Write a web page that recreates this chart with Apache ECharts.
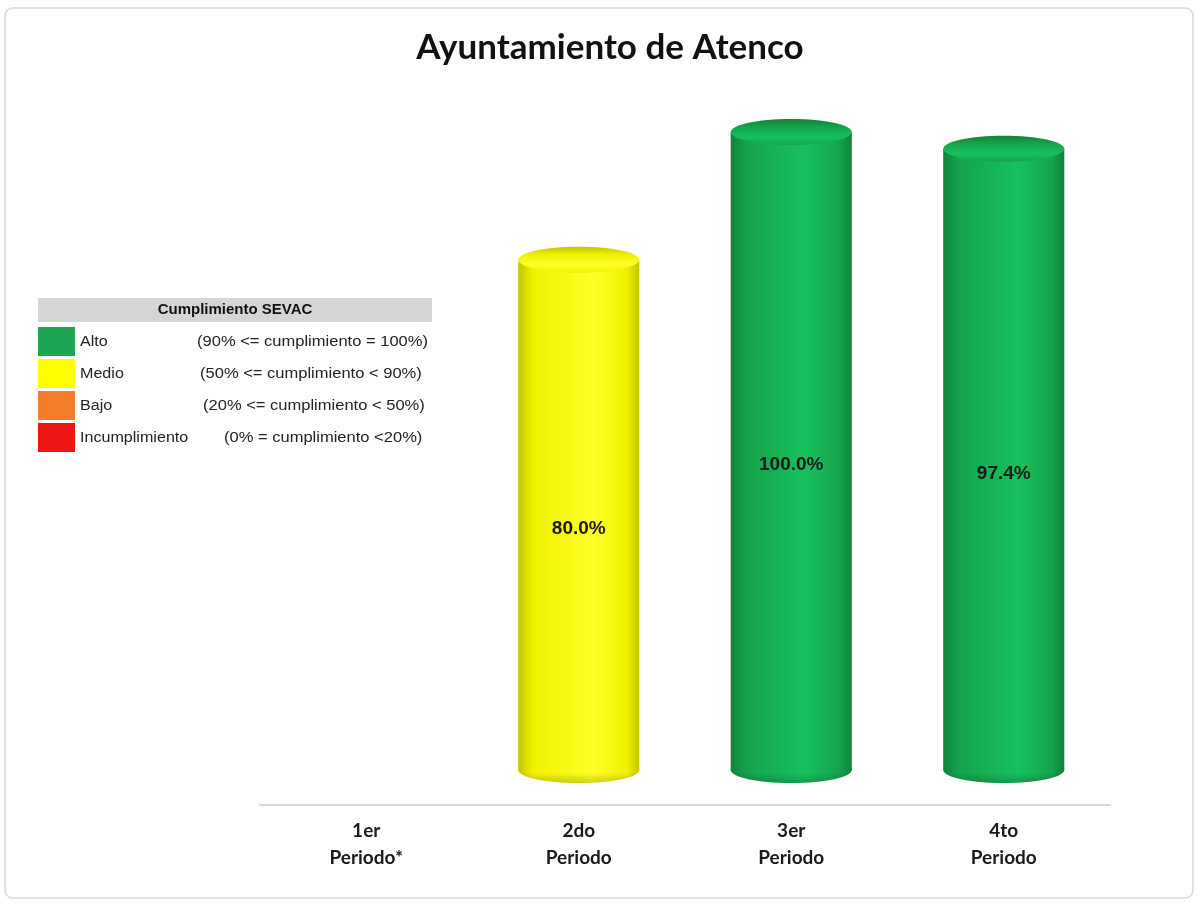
<!DOCTYPE html>
<html>
<head>
<meta charset="utf-8">
<script src="https://cdn.jsdelivr.net/npm/echarts@6/dist/echarts.min.js"></script>
<style>
  html, body { margin: 0; padding: 0; background: #fff; }
  #chart { width: 1198px; height: 903px; }
</style>
</head>
<body>
<div id="chart"></div>
<script>
// datos del grafico
const titulo = "Ayuntamiento de Atenco";
const categorias = ["1er\nPeriodo*", "2do\nPeriodo", "3er\nPeriodo", "4to\nPeriodo"];
const cumplimiento = [null, 80.0, 100.0, 97.4];

// leyenda SEVAC
const nivelNombres = ["Alto", "Medio", "Bajo", "Incumplimiento"];
const nivelRangos = [
  "(90% <= cumplimiento = 100%)",
  "(50% <= cumplimiento < 90%)",
  "(20% <= cumplimiento < 50%)",
  "(0% = cumplimiento <20%)"
];
const nivelMinimos = [90, 50, 20, 0];

// colores de cada nivel (cuadro) y del cilindro (borde oscuro, medio, brillo)
const nivelColores = ["#1ea653", "#ffff00", "#f47d2c", "#ee1515"];
const cilindroColores = [
  ["#108338", "#16a24b", "#16c15d"],
  ["#c4c400", "#f0f000", "#ffff28"],
  ["#b85a10", "#e07020", "#ff9a50"],
  ["#a00d0d", "#d01515", "#ff4a4a"]
];

function nivel(v) {
  for (let i = 0; i < nivelMinimos.length; i++) {
    if (v >= nivelMinimos[i]) return i;
  }
  return nivelMinimos.length - 1;
}

let myChart = echarts.init(document.getElementById("chart"));

// marco, titulo y cuadro de leyenda con graphic
let extras = [
  {
    type: "rect",
    z: -10,
    shape: { x: 5, y: 8, width: 1188, height: 890, r: 8 },
    style: { fill: "#fff", stroke: "#d8d8d8", lineWidth: 1.5 }
  },
  {
    type: "text",
    x: 610, y: 48,
    style: {
      text: titulo, fill: "#111",
      font: "bold 35px Lato", align: "center", verticalAlign: "middle"
    }
  },
  {
    type: "rect",
    shape: { x: 38, y: 298, width: 394, height: 24 },
    style: { fill: "#d5d5d5" }
  },
  {
    type: "text",
    x: 235, y: 310,
    style: {
      text: "Cumplimiento SEVAC", fill: "#111",
      font: "bold 15px 'Liberation Sans', Arial", align: "center", verticalAlign: "middle"
    }
  }
];
const rangoX = [197, 200, 203, 224];
nivelNombres.forEach(function (nombre, i) {
  let y = 327 + i * 32;
  extras.push({
    type: "rect",
    shape: { x: 38, y: y, width: 37, height: 29 },
    style: { fill: nivelColores[i] }
  });
  extras.push({
    type: "text",
    x: 80, y: y + 15,
    scaleX: 1.15,
    style: {
      text: nombre, fill: "#222",
      font: "14px 'Liberation Sans', Arial", verticalAlign: "middle"
    }
  });
  extras.push({
    type: "text",
    x: rangoX[i], y: y + 15,
    scaleX: 1.18,
    style: {
      text: nivelRangos[i], fill: "#222",
      font: "14px 'Liberation Sans', Arial", verticalAlign: "middle"
    }
  });
});

function cilindro(params, api) {
  let v = api.value(1);
  if (v == null || isNaN(v)) return;
  let top = api.coord([api.value(0), v]);
  let base = api.coord([api.value(0), 0]);
  let w = api.size([1, 0])[0] * 0.57;
  let rx = w / 2;
  let ry = 13;
  let cx = top[0];
  let c = cilindroColores[nivel(v)];
  let cuerpo = new echarts.graphic.LinearGradient(0, 0, 1, 0, [
    { offset: 0, color: c[0] },
    { offset: 0.12, color: c[1] },
    { offset: 0.62, color: c[2] },
    { offset: 0.9, color: c[1] },
    { offset: 1, color: c[0] }
  ]);
  let sombra = new echarts.graphic.LinearGradient(0, 0, 0, 1, [
    { offset: 0, color: "rgba(0,0,0,0)" },
    { offset: 0.6, color: "rgba(0,0,0,0)" },
    { offset: 1, color: "rgba(0,0,0,0.18)" }
  ]);
  let tapa = new echarts.graphic.LinearGradient(0, 0, 0, 1, [
    { offset: 0, color: c[0] },
    { offset: 0.3, color: c[1] },
    { offset: 0.7, color: c[2] },
    { offset: 1, color: c[1] }
  ]);
  return {
    type: "group",
    children: [
      {
        type: "ellipse",
        shape: { cx: cx, cy: base[1], rx: rx, ry: ry },
        style: { fill: cuerpo }
      },
      {
        type: "ellipse",
        shape: { cx: cx, cy: base[1], rx: rx, ry: ry },
        style: { fill: sombra }
      },
      {
        type: "rect",
        shape: { x: cx - rx, y: top[1], width: w, height: base[1] - top[1] },
        style: { fill: cuerpo }
      },
      {
        type: "ellipse",
        shape: { cx: cx, cy: top[1], rx: rx, ry: ry },
        style: { fill: tapa }
      },
      {
        type: "text",
        x: cx, y: (top[1] + base[1]) / 2 + 14,
        style: {
          text: v.toFixed(1) + "%", fill: "#1a1a1a",
          font: "bold 19px 'Liberation Sans', Arial",
          align: "center", verticalAlign: "middle"
        }
      }
    ]
  };
}

myChart.setOption({
  backgroundColor: "#fff",
  animation: false,
  graphic: extras,
  grid: { left: 260, right: 88, top: 67, bottom: 98 },
  xAxis: {
    type: "category",
    data: categorias,
    axisTick: { show: false },
    axisLine: { onZero: false, lineStyle: { color: "#d6d6d6", width: 2 } },
    axisLabel: {
      margin: 12,
      fontFamily: "Lato",
      fontWeight: "bold",
      fontSize: 19,
      lineHeight: 27,
      color: "#1a1a1a"
    }
  },
  yAxis: {
    type: "value",
    min: -5.5,
    max: 110.2,
    show: false,
    splitLine: { show: false }
  },
  series: [
    {
      type: "custom",
      renderItem: cilindro,
      data: cumplimiento.map(function (v, i) { return [i, v == null ? "-" : v]; })
    }
  ]
});
</script>
</body>
</html>
